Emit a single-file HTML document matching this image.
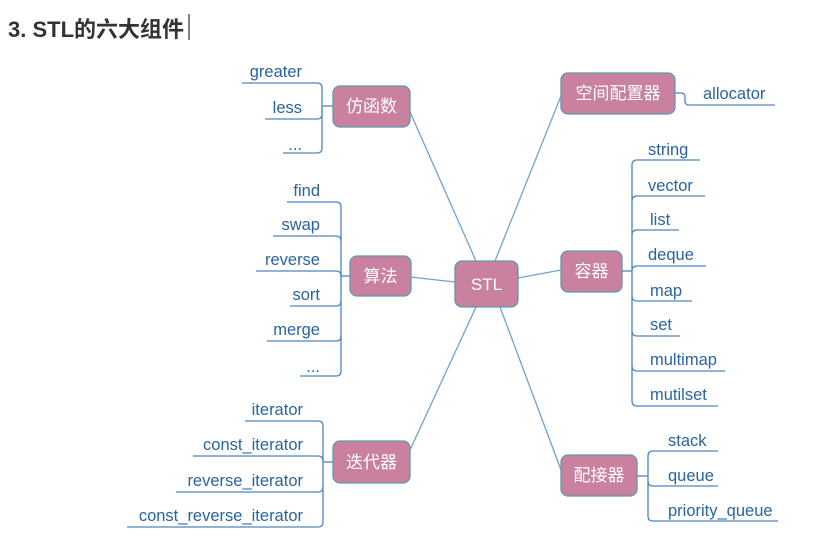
<!DOCTYPE html>
<html><head><meta charset="utf-8"><style>
body{margin:0;background:#fff;width:824px;height:546px;overflow:hidden}
svg{display:block}
.t{font-family:"Liberation Sans","Noto Sans CJK SC",sans-serif;font-size:16.5px;fill:#2a64a0}
.n{font-family:"Liberation Sans","Noto Sans CJK SC",sans-serif;font-size:17px;fill:#fff}
.l{stroke:#6fa3cf;stroke-width:1.3;fill:none}
.u{stroke:#4f86bd;stroke-width:1.3;fill:none}
.b{fill:#c9819f;stroke:#5f9aa8;stroke-width:1.3}
</style></head><body>
<svg width="824" height="546" xmlns="http://www.w3.org/2000/svg">
<text x="8" y="37" style="font-family:'Liberation Sans','Noto Sans CJK SC',sans-serif;font-size:22px;font-weight:bold;fill:#333">3. STL的六大组件</text>
<line x1="189" y1="14" x2="189" y2="40" stroke="#333" stroke-width="1.2"/>

<path class="l" d="M410 112 L476 261"/>
<path class="l" d="M410 277 L455 282"/>
<path class="l" d="M410 450 L476 307"/>
<path class="l" d="M561 96 L495 261"/>
<path class="l" d="M561 270 L518 278"/>
<path class="l" d="M561 470 L500 307"/>

<path class="u" d="M242 83 H317 Q322 83 322 88 V148 Q322 153 317 153 H283"/>
<path class="u" d="M265 119 H317 Q322 119 322 114 V110"/>
<path class="u" d="M322 106 H333"/>
<text class="t" x="302" y="77" text-anchor="end">greater</text>
<text class="t" x="302" y="113" text-anchor="end">less</text>
<text class="t" x="302" y="150" text-anchor="end">...</text>

<path class="u" d="M287 202 H336 Q341 202 341 207 V371 Q341 376 336 376 H300"/>
<path class="u" d="M273 236 H336 Q341 236 341 241"/>
<path class="u" d="M256 271 H336 Q341 271 341 276"/>
<path class="u" d="M290 306 H336 Q341 306 341 301"/>
<path class="u" d="M267 341 H336 Q341 341 341 336"/>
<path class="u" d="M341 276 H350"/>
<text class="t" x="320" y="196" text-anchor="end">find</text>
<text class="t" x="320" y="230" text-anchor="end">swap</text>
<text class="t" x="320" y="265" text-anchor="end">reverse</text>
<text class="t" x="320" y="300" text-anchor="end">sort</text>
<text class="t" x="320" y="335" text-anchor="end">merge</text>
<text class="t" x="320" y="372" text-anchor="end">...</text>

<path class="u" d="M245 421 H318 Q323 421 323 426 V522 Q323 527 318 527 H127"/>
<path class="u" d="M193 456 H318 Q323 456 323 461"/>
<path class="u" d="M176 492 H318 Q323 492 323 487"/>
<path class="u" d="M323 462 H333"/>
<text class="t" x="303" y="415" text-anchor="end">iterator</text>
<text class="t" x="303" y="450" text-anchor="end">const_iterator</text>
<text class="t" x="303" y="486" text-anchor="end">reverse_iterator</text>
<text class="t" x="303" y="521" text-anchor="end">const_reverse_iterator</text>

<path class="u" d="M675 93 H681 Q685 93 685 97 V101 Q685 105 689 105 H775"/>
<text class="t" x="703" y="99">allocator</text>

<path class="u" d="M700 160 H637 Q632 160 632 165 V401 Q632 406 637 406 H718"/>
<path class="u" d="M705 196 H637 Q632 196 632 201"/>
<path class="u" d="M679 230 H637 Q632 230 632 235"/>
<path class="u" d="M706 266 H637 Q632 266 632 271"/>
<path class="u" d="M692 301 H637 Q632 301 632 296"/>
<path class="u" d="M680 336 H637 Q632 336 632 331"/>
<path class="u" d="M725 371 H637 Q632 371 632 366"/>
<path class="u" d="M622 271 H632"/>
<text class="t" x="648" y="155">string</text>
<text class="t" x="648" y="191">vector</text>
<text class="t" x="650" y="225">list</text>
<text class="t" x="648" y="260">deque</text>
<text class="t" x="650" y="296">map</text>
<text class="t" x="650" y="330">set</text>
<text class="t" x="650" y="365">multimap</text>
<text class="t" x="650" y="400">mutilset</text>

<path class="u" d="M718 451 H653 Q648 451 648 456 V516 Q648 521 653 521 H778"/>
<path class="u" d="M718 486 H653 Q648 486 648 481"/>
<path class="u" d="M637 476 H648"/>
<text class="t" x="668" y="446">stack</text>
<text class="t" x="668" y="481">queue</text>
<text class="t" x="668" y="516">priority_queue</text>

<rect class="b" x="333" y="86" width="77" height="41" rx="7"/>
<text class="n" x="371.5" y="112" text-anchor="middle">仿函数</text>
<rect class="b" x="350" y="256" width="61" height="40" rx="7"/>
<text class="n" x="380.5" y="282" text-anchor="middle">算法</text>
<rect class="b" x="455" y="261" width="63" height="46" rx="7"/>
<text class="n" x="486.5" y="290" text-anchor="middle">STL</text>
<rect class="b" x="561" y="73" width="114" height="41" rx="7"/>
<text class="n" x="618" y="99" text-anchor="middle">空间配置器</text>
<rect class="b" x="561" y="251" width="61" height="41" rx="7"/>
<text class="n" x="591.5" y="277" text-anchor="middle">容器</text>
<rect class="b" x="333" y="441" width="77" height="42" rx="7"/>
<text class="n" x="371.5" y="468" text-anchor="middle">迭代器</text>
<rect class="b" x="561" y="455" width="76" height="41" rx="7"/>
<text class="n" x="599" y="481" text-anchor="middle">配接器</text>
</svg>
</body></html>
